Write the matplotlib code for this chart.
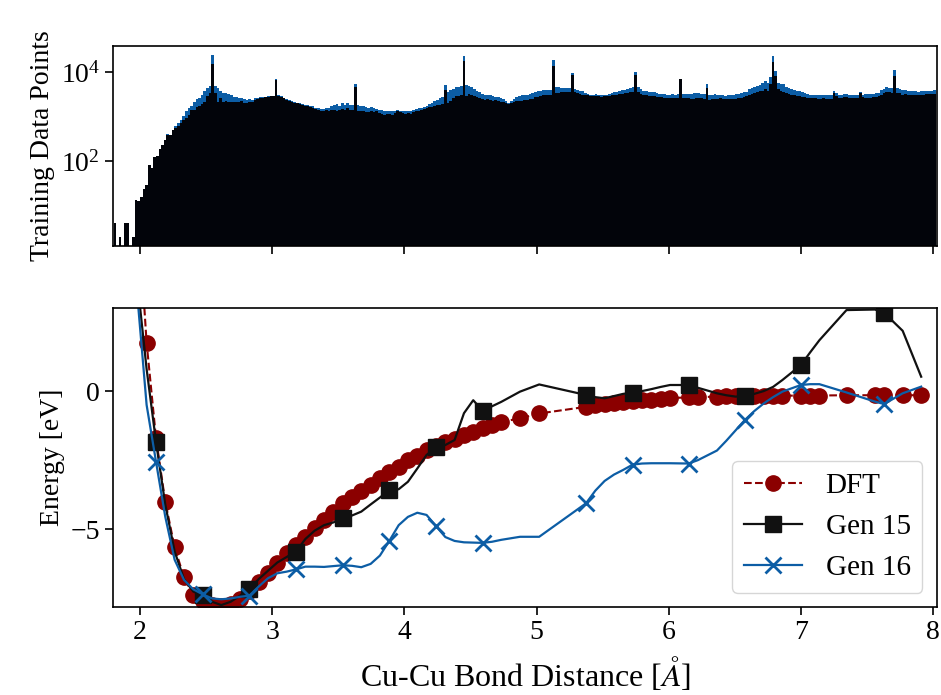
import numpy as np
import matplotlib
matplotlib.use("Agg")
import matplotlib.pyplot as plt

plt.rcParams['font.family'] = ['Liberation Serif', 'DejaVu Serif']
plt.rcParams['mathtext.fontset'] = 'stix'
plt.rcParams['font.size'] = 20
plt.rcParams['axes.linewidth'] = 1.2

BLUE = '#0C5DA5'
DARKRED = '#8B0000'

# histogram of Cu-Cu distances in the training sets, 0.02 A bins starting at 1.80 A
bin_start = 1.80
bin_width = 0.02
# log10 of counts per bin
gen15_logcount = [
    0.6, 0, 0.3, 0, 0.6, 0.6, 0, 0.3, 1.13, 1.1,
    1.2, 1.37, 1.47, 1.92, 1.85, 2.09, 2.12, 2.27, 2.37, 2.48,
    2.6, 2.58, 2.7, 2.74, 2.8, 2.85, 2.93, 2.97, 3.04, 3.16,
    3.16, 3.23, 3.25, 3.29, 3.34, 3.46, 3.53, 4.19, 3.53, 3.34,
    3.43, 3.34, 3.35, 3.34, 3.34, 3.33, 3.34, 3.33, 3.35, 3.30,
    3.30, 3.34, 3.33, 3.38, 3.40, 3.42, 3.42, 3.44, 3.45, 3.46,
    3.46, 3.83, 3.47, 3.45, 3.42, 3.38, 3.36, 3.34, 3.32, 3.30,
    3.28, 3.27, 3.25, 3.24, 3.22, 3.20, 3.18, 3.15, 3.14, 3.14,
    3.15, 3.12, 3.15, 3.16, 3.14, 3.15, 3.18, 3.15, 3.20, 3.15,
    3.15, 3.68, 3.14, 3.13, 3.12, 3.10, 3.10, 3.12, 3.11, 3.12,
    3.08, 3.06, 3.05, 3.06, 3.07, 3.05, 3.08, 3.13, 3.10, 3.08,
    3.07, 3.08, 3.06, 3.10, 3.12, 3.14, 3.16, 3.17, 3.19, 3.21,
    3.23, 3.24, 3.26, 3.27, 3.28, 3.60, 3.30, 3.36, 3.42, 3.46,
    3.47, 3.49, 4.25, 3.47, 3.52, 3.50, 3.47, 3.44, 3.42, 3.40,
    3.38, 3.40, 3.38, 3.36, 3.37, 3.35, 3.34, 3.33, 3.31, 3.28,
    3.30, 3.33, 3.35, 3.36, 3.36, 3.37, 3.38, 3.40, 3.41, 3.44,
    3.45, 3.47, 3.48, 3.48, 3.49, 3.49, 4.14, 3.53, 3.54, 3.55,
    3.55, 3.55, 3.55, 3.94, 3.55, 3.53, 3.52, 3.50, 3.48, 3.48,
    3.47, 3.46, 3.47, 3.46, 3.45, 3.47, 3.46, 3.46, 3.48, 3.49,
    3.50, 3.51, 3.52, 3.53, 3.54, 3.55, 3.56, 3.94, 3.55, 3.52,
    3.50, 3.48, 3.47, 3.47, 3.46, 3.45, 3.44, 3.44, 3.43, 3.43,
    3.43, 3.42, 3.42, 3.43, 3.86, 3.43, 3.42, 3.42, 3.41, 3.41,
    3.42, 3.42, 3.42, 3.41, 3.64, 3.38, 3.40, 3.40, 3.39, 3.42,
    3.40, 3.39, 3.39, 3.40, 3.41, 3.41, 3.42, 3.43, 3.45, 3.46,
    3.50, 3.52, 3.54, 3.56, 3.58, 3.59, 3.62, 3.59, 3.74, 4.24,
    3.92, 3.62, 3.57, 3.55, 3.53, 3.51, 3.50, 3.49, 3.47, 3.46,
    3.45, 3.44, 3.43, 3.42, 3.42, 3.42, 3.41, 3.41, 3.42, 3.41,
    3.41, 3.40, 3.54, 3.46, 3.42, 3.43, 3.44, 3.44, 3.43, 3.43,
    3.42, 3.42, 3.53, 3.44, 3.43, 3.43, 3.43, 3.44, 3.45, 3.46,
    3.50, 3.53, 3.56, 3.55, 3.54, 3.92, 3.54, 3.53, 3.49, 3.52,
    3.49, 3.50, 3.49, 3.48, 3.49, 3.49, 3.50, 3.52, 3.52, 3.52, 3.52,
]
gen16_logcount = [
    0.6, 0, 0.3, 0, 0.6, 0.6, 0, 0.3, 1.13, 1.1,
    1.2, 1.37, 1.47, 1.92, 1.85, 2.09, 2.12, 2.27, 2.37, 2.48,
    2.62, 2.6, 2.71, 2.8, 2.85, 2.93, 3.02, 3.12, 3.19, 3.25,
    3.34, 3.40, 3.42, 3.49, 3.57, 3.64, 3.70, 4.39, 3.70, 3.64,
    3.58, 3.53, 3.53, 3.51, 3.50, 3.45, 3.45, 3.42, 3.42, 3.40,
    3.38, 3.40, 3.38, 3.42, 3.42, 3.44, 3.44, 3.45, 3.46, 3.47,
    3.47, 3.84, 3.48, 3.46, 3.43, 3.39, 3.37, 3.35, 3.33, 3.32,
    3.30, 3.29, 3.27, 3.27, 3.25, 3.25, 3.20, 3.20, 3.18, 3.18,
    3.20, 3.20, 3.24, 3.27, 3.28, 3.24, 3.30, 3.26, 3.30, 3.27,
    3.27, 3.74, 3.26, 3.25, 3.24, 3.22, 3.20, 3.21, 3.20, 3.18,
    3.16, 3.15, 3.13, 3.14, 3.12, 3.12, 3.12, 3.16, 3.14, 3.13,
    3.12, 3.12, 3.12, 3.15, 3.17, 3.19, 3.20, 3.22, 3.25, 3.28,
    3.31, 3.35, 3.38, 3.42, 3.44, 3.71, 3.55, 3.60, 3.62, 3.66,
    3.66, 3.70, 4.37, 3.72, 3.70, 3.68, 3.62, 3.58, 3.55, 3.52,
    3.50, 3.50, 3.48, 3.46, 3.45, 3.44, 3.42, 3.40, 3.36, 3.31,
    3.36, 3.41, 3.44, 3.46, 3.48, 3.49, 3.50, 3.52, 3.53, 3.56,
    3.58, 3.58, 3.60, 3.60, 3.60, 3.61, 4.28, 3.66, 3.66, 3.64,
    3.64, 3.65, 3.64, 3.98, 3.62, 3.60, 3.58, 3.57, 3.53, 3.52,
    3.50, 3.49, 3.51, 3.49, 3.50, 3.50, 3.50, 3.52, 3.53, 3.55,
    3.56, 3.57, 3.60, 3.61, 3.63, 3.65, 3.66, 4.00, 3.66, 3.62,
    3.58, 3.57, 3.56, 3.55, 3.55, 3.53, 3.52, 3.52, 3.51, 3.50,
    3.50, 3.51, 3.50, 3.51, 3.86, 3.51, 3.52, 3.51, 3.52, 3.53,
    3.53, 3.53, 3.52, 3.52, 3.74, 3.50, 3.50, 3.51, 3.50, 3.49,
    3.48, 3.47, 3.48, 3.48, 3.50, 3.51, 3.52, 3.53, 3.55, 3.56,
    3.62, 3.65, 3.67, 3.70, 3.72, 3.75, 3.80, 3.77, 3.89, 4.37,
    4.02, 3.77, 3.74, 3.73, 3.68, 3.65, 3.62, 3.60, 3.58, 3.57,
    3.55, 3.53, 3.52, 3.50, 3.50, 3.49, 3.49, 3.50, 3.49, 3.49,
    3.49, 3.50, 3.58, 3.53, 3.50, 3.50, 3.51, 3.51, 3.50, 3.49,
    3.48, 3.48, 3.55, 3.50, 3.51, 3.51, 3.52, 3.52, 3.53, 3.54,
    3.60, 3.63, 3.66, 3.64, 3.65, 4.05, 3.64, 3.62, 3.60, 3.61,
    3.58, 3.58, 3.57, 3.57, 3.56, 3.57, 3.58, 3.59, 3.59, 3.59, 3.60,
]

# dimer scan: bond distance [A] and energies [eV]
distance = [
    1.979, 2.050, 2.121, 2.191, 2.262, 2.333, 2.403, 2.474, 2.545, 2.615,
    2.686, 2.757, 2.827, 2.898, 2.968, 3.039, 3.110, 3.180, 3.251, 3.321,
    3.392, 3.463, 3.533, 3.604, 3.674, 3.745, 3.815, 3.886, 3.957, 4.027,
    4.098, 4.168, 4.239, 4.310, 4.380, 4.451, 4.521, 4.592, 4.663, 4.733,
    4.875, 5.020, 5.374, 5.445, 5.515, 5.586, 5.656, 5.727, 5.798, 5.868,
    5.939, 6.010, 6.150, 6.220, 6.365, 6.435, 6.506, 6.577, 6.648, 6.718,
    6.789, 6.860, 7.000, 7.070, 7.140, 7.345, 7.560, 7.630, 7.770, 7.910,
]
e_dft = [
    7.0, 1.75, -1.70, -4.00, -5.65, -6.74, -7.38, -7.60, -7.72, -7.76,
    -7.70, -7.52, -7.22, -6.92, -6.58, -6.22, -5.87, -5.57, -5.27, -4.97,
    -4.66, -4.36, -4.06, -3.82, -3.62, -3.40, -3.16, -2.92, -2.74, -2.49,
    -2.35, -2.13, -1.97, -1.85, -1.72, -1.59, -1.47, -1.33, -1.21, -1.11,
    -0.99, -0.81, -0.57, -0.52, -0.47, -0.43, -0.40, -0.37, -0.34, -0.31,
    -0.28, -0.25, -0.23, -0.22, -0.20, -0.19, -0.19, -0.18, -0.18, -0.17,
    -0.17, -0.17, -0.16, -0.16, -0.16, -0.15, -0.15, -0.15, -0.15, -0.15,
]
e_gen15 = [
    4.0, 0.8, -1.83, -4.10, -5.80, -6.80, -7.25, -7.38, -7.62, -7.74,
    -7.62, -7.40, -7.17, -6.80, -6.50, -6.20, -6.00, -5.81, -5.35, -5.05,
    -4.85, -4.75, -4.60, -4.50, -4.36, -4.10, -3.85, -3.58, -3.55, -3.28,
    -2.80, -2.31, -2.04, -1.95, -1.77, -0.80, -0.33, -0.71, -0.55, -0.39,
    -0.02, 0.24, -0.14, -0.22, -0.26, -0.18, -0.10, -0.06, 0.00, 0.07,
    0.15, 0.22, 0.22, 0.12, -0.08, -0.15, -0.20, -0.18, -0.10, 0.00,
    0.15, 0.40, 0.94, 1.40, 1.84, 2.93, 2.95, 2.83, 2.18, 0.52,
]
e_gen16 = [
    3.5, -0.5, -2.55, -4.54, -6.10, -6.83, -7.17, -7.35, -7.50, -7.53,
    -7.50, -7.44, -7.40, -7.07, -6.77, -6.59, -6.53, -6.45, -6.35, -6.35,
    -6.36, -6.33, -6.30, -6.32, -6.37, -6.25, -5.95, -5.42, -4.85, -4.55,
    -4.40, -4.48, -4.88, -5.28, -5.42, -5.47, -5.48, -5.49, -5.45, -5.38,
    -5.27, -5.27, -4.06, -3.60, -3.25, -3.02, -2.85, -2.66, -2.62, -2.61,
    -2.61, -2.61, -2.62, -2.50, -2.15, -1.80, -1.42, -1.04, -0.72, -0.45,
    -0.22, -0.02, 0.22, 0.25, 0.25, -0.05, -0.38, -0.47, -0.08, 0.16,
]

centers = bin_start + bin_width * (np.arange(len(gen16_logcount)) + 0.5)
counts15 = 10 ** np.array(gen15_logcount)
counts16 = 10 ** np.array(gen16_logcount)

fig, (ax1, ax2) = plt.subplots(2, 1, sharex=True, figsize=(9.41, 6.95), dpi=100,
                               gridspec_kw={'height_ratios': [200, 299]})
plt.subplots_adjust(left=0.1204, right=0.9958, top=0.9338, bottom=0.1262, hspace=0.2485)

ax1.bar(centers, counts16, bin_width, color=BLUE, linewidth=0, log=True)
ax1.bar(centers, counts15, bin_width, color='#02040a', linewidth=0, log=True)
ax1.set_yticks([1e2, 1e4])
ax1.yaxis.set_minor_locator(matplotlib.ticker.NullLocator())
ax1.set_ylim(1.23, 3.9e4)
ax1.set_ylabel('Training Data Points')

ax2.plot(distance, e_dft, '--o', color=DARKRED, markersize=11, linewidth=1.5, label='DFT')
ax2.plot(distance, e_gen15, '-s', color='#111111', markersize=11, linewidth=1.6,
         markevery=(2, 5), label='Gen 15')
ax2.plot(distance, e_gen16, '-x', color=BLUE, markersize=12, markeredgewidth=2,
         linewidth=1.6, markevery=(2, 5), label='Gen 16')
ax2.set_ylim(-7.82, 3.0)
ax2.set_yticks([-5, 0])
ax2.set_xlim(1.798, 8.03)
ax2.set_xticks(range(2, 9))
ax2.set_xlabel(r'Cu-Cu Bond Distance [$\AA$]', fontsize=23, labelpad=7)
ax2.set_ylabel('Energy [eV]')
ax2.legend(loc='lower right', fontsize=21)

for ax in (ax1, ax2):
    ax.tick_params(direction='out', length=6, width=1.2)

plt.savefig('out.png', dpi=100)
